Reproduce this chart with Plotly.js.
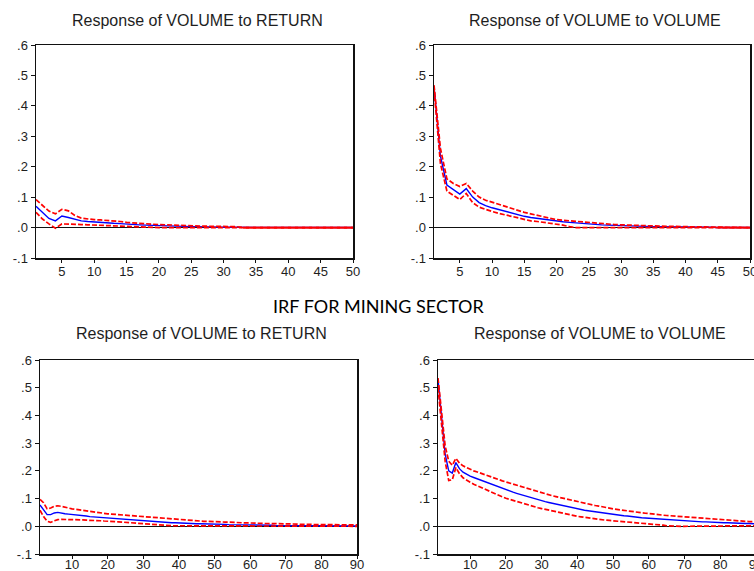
<!DOCTYPE html>
<html>
<head>
<meta charset="utf-8">
<script src="https://cdn.plot.ly/plotly-3.0.1.min.js"></script>
<style>
  html, body { margin: 0; padding: 0; overflow: hidden; background: #fff; }
  #irf { width: 760px; height: 571px; }
</style>
</head>
<body>
<div id="irf"></div>
<script>
// Impulse responses of VOLUME with +/- 2 S.E. bands

const panelTitles = [
  "Response of VOLUME to RETURN",
  "Response of VOLUME to VOLUME",
  "Response of VOLUME to RETURN",
  "Response of VOLUME to VOLUME"
];
const sectionTitle = "IRF FOR MINING SECTOR";

const yTickVals = [-0.1, 0, 0.1, 0.2, 0.3, 0.4, 0.5, 0.6];
const yTickText = ["-.1", ".0", ".1", ".2", ".3", ".4", ".5", ".6"];
const xTicksShort = [5, 10, 15, 20, 25, 30, 35, 40, 45, 50];
const xTicksLong = [10, 20, 30, 40, 50, 60, 70, 80, 90];

// Panel 1: VOLUME to RETURN, 50 periods
const retResp50 = [
  0.070, 0.050, 0.030, 0.022, 0.038, 0.033, 0.027, 0.022, 0.020, 0.018,
  0.017, 0.016, 0.014, 0.013, 0.011, 0.010, 0.009, 0.008, 0.007, 0.006,
  0.005, 0.005, 0.004, 0.004, 0.003, 0.003, 0.002, 0.002, 0.002, 0.001,
  0.001, 0.001, 0, 0, 0, 0, 0, 0, 0, 0,
  0, 0, 0, 0, 0, 0, 0, 0, 0, 0
];
const retUpper50 = [
  0.092, 0.074, 0.054, 0.045, 0.060, 0.055, 0.040, 0.031, 0.028, 0.026,
  0.025, 0.024, 0.022, 0.020, 0.017, 0.015, 0.013, 0.012, 0.011, 0.010,
  0.009, 0.008, 0.007, 0.006, 0.006, 0.005, 0.005, 0.004, 0.004, 0.004,
  0.003, 0.003, 0, 0, 0, 0, 0, 0, 0, 0,
  0, 0, 0, 0, 0, 0, 0, 0, 0, 0
];
const retLower50 = [
  0.050, 0.028, 0.012, -0.002, 0.012, 0.012, 0.012, 0.010, 0.009, 0.008,
  0.007, 0.006, 0.005, 0.004, 0.003, 0.002, 0.002, 0.001, 0.001, 0,
  0, 0, 0, 0, 0, 0, 0, 0, 0, 0,
  0, 0, 0, 0, 0, 0, 0, 0, 0, 0,
  0, 0, 0, 0, 0, 0, 0, 0, 0, 0
];

// Panel 2: VOLUME to VOLUME, 50 periods
const volResp50 = [
  0.465, 0.235, 0.140, 0.124, 0.110, 0.128, 0.100, 0.082, 0.072, 0.065,
  0.059, 0.054, 0.047, 0.041, 0.037, 0.033, 0.030, 0.026, 0.023, 0.021,
  0.019, 0.017, 0.015, 0.013, 0.011, 0.010, 0.009, 0.008, 0.007, 0.006,
  0.005, 0.005, 0.004, 0.004, 0.003, 0.003, 0.003, 0.002, 0.002, 0.002,
  0.001, 0.001, 0.001, 0.001, 0, 0, 0, 0, 0, 0
];
const volUpper50 = [
  0.468, 0.260, 0.160, 0.145, 0.135, 0.145, 0.120, 0.100, 0.090, 0.083,
  0.076, 0.070, 0.062, 0.055, 0.050, 0.045, 0.040, 0.035, 0.030, 0.026,
  0.024, 0.022, 0.020, 0.018, 0.016, 0.014, 0.013, 0.011, 0.010, 0.009,
  0.008, 0.007, 0.007, 0.006, 0.005, 0.005, 0.004, 0.004, 0.003, 0.003,
  0.003, 0.002, 0.002, 0.002, 0, 0, 0, 0, 0, 0
];
const volLower50 = [
  0.455, 0.210, 0.120, 0.105, 0.092, 0.112, 0.082, 0.067, 0.059, 0.053,
  0.047, 0.042, 0.035, 0.030, 0.026, 0.022, 0.020, 0.017, 0.014, 0.012,
  0.008, 0.003, 0, 0, 0, 0, 0, 0, 0, 0,
  0, 0, 0, 0, 0, 0, 0, 0, 0, 0,
  0, 0, 0, 0, 0, 0, 0, 0, 0, 0
];

// Panel 3: VOLUME to RETURN, 90 periods
const retResp90 = [
  0.077, 0.060, 0.042, 0.042, 0.048, 0.050, 0.047, 0.045, 0.044, 0.043,
  0.041, 0.040, 0.038, 0.037, 0.035, 0.034, 0.032, 0.031, 0.030, 0.029,
  0.028, 0.027, 0.026, 0.025, 0.024, 0.023, 0.022, 0.021, 0.020, 0.019,
  0.018, 0.018, 0.017, 0.016, 0.015, 0.015, 0.014, 0.013, 0.013, 0.012,
  0.011, 0.011, 0.010, 0.010, 0.009, 0.009, 0.009, 0.008, 0.008, 0.008,
  0.007, 0.007, 0.007, 0.006, 0.006, 0.006, 0.006, 0.005, 0.005, 0.005,
  0.005, 0.004, 0.004, 0.004, 0.004, 0.004, 0.003, 0.003, 0.003, 0.003,
  0.003, 0.003, 0.002, 0.002, 0.002, 0.002, 0.002, 0.002, 0.002, 0.002,
  0.001, 0.001, 0.001, 0.001, 0.001, 0.001, 0.001, 0.001, 0.001, 0.001
];
const retUpper90 = [
  0.097, 0.085, 0.063, 0.066, 0.072, 0.074, 0.072, 0.070, 0.066, 0.063,
  0.061, 0.059, 0.057, 0.055, 0.053, 0.052, 0.050, 0.048, 0.047, 0.045,
  0.044, 0.043, 0.042, 0.041, 0.040, 0.038, 0.037, 0.036, 0.035, 0.033,
  0.032, 0.031, 0.030, 0.029, 0.028, 0.027, 0.026, 0.025, 0.024, 0.023,
  0.022, 0.021, 0.021, 0.020, 0.019, 0.019, 0.018, 0.018, 0.017, 0.017,
  0.016, 0.016, 0.015, 0.015, 0.014, 0.014, 0.013, 0.013, 0.012, 0.012,
  0.011, 0.011, 0.011, 0.010, 0.010, 0.010, 0.010, 0.009, 0.009, 0.009,
  0.008, 0.008, 0.008, 0.007, 0.007, 0.007, 0.007, 0.006, 0.006, 0.006,
  0.006, 0.006, 0.005, 0.005, 0.005, 0.005, 0.005, 0.005, 0.005, 0.005
];
const retLower90 = [
  0.058, 0.035, 0.018, 0.014, 0.020, 0.024, 0.025, 0.025, 0.025, 0.024,
  0.024, 0.023, 0.023, 0.022, 0.022, 0.021, 0.021, 0.020, 0.019, 0.019,
  0.018, 0.017, 0.016, 0.015, 0.015, 0.014, 0.013, 0.012, 0.011, 0.010,
  0.009, 0.008, 0.006, 0.005, 0.003, 0.002, 0.002, 0.002, 0.002, 0.002,
  0.001, 0.001, 0.001, 0.001, 0.001, 0.001, 0.001, 0.001, 0.001, 0.001,
  0, 0, 0, 0, 0, 0, 0, 0, 0, 0,
  0, 0, 0, 0, 0, 0, 0, 0, 0, 0,
  0, 0, 0, 0, 0, 0, 0, 0, 0, 0,
  0, 0, 0, 0, 0, 0, 0, 0, 0, 0
];

// Panel 4: VOLUME to VOLUME, 90 periods
const volResp90 = [
  0.530, 0.380, 0.260, 0.200, 0.192, 0.230, 0.208, 0.195, 0.187, 0.181,
  0.176, 0.171, 0.166, 0.161, 0.156, 0.151, 0.146, 0.141, 0.136, 0.131,
  0.127, 0.123, 0.119, 0.115, 0.111, 0.107, 0.103, 0.099, 0.096, 0.092,
  0.089, 0.086, 0.083, 0.080, 0.077, 0.074, 0.071, 0.068, 0.065, 0.062,
  0.060, 0.058, 0.056, 0.054, 0.052, 0.050, 0.048, 0.046, 0.044, 0.042,
  0.041, 0.039, 0.038, 0.037, 0.035, 0.034, 0.032, 0.031, 0.030, 0.029,
  0.028, 0.027, 0.026, 0.025, 0.024, 0.023, 0.022, 0.021, 0.020, 0.019,
  0.019, 0.018, 0.017, 0.017, 0.016, 0.016, 0.015, 0.015, 0.014, 0.014,
  0.013, 0.013, 0.012, 0.012, 0.011, 0.011, 0.010, 0.010, 0.010, 0.009
];
const volUpper90 = [
  0.535, 0.410, 0.290, 0.235, 0.220, 0.245, 0.228, 0.218, 0.211, 0.205,
  0.200, 0.196, 0.191, 0.187, 0.182, 0.178, 0.173, 0.169, 0.164, 0.160,
  0.156, 0.152, 0.148, 0.144, 0.140, 0.136, 0.132, 0.128, 0.124, 0.120,
  0.117, 0.113, 0.110, 0.107, 0.104, 0.100, 0.097, 0.094, 0.091, 0.088,
  0.085, 0.083, 0.080, 0.078, 0.075, 0.073, 0.070, 0.068, 0.066, 0.063,
  0.061, 0.059, 0.057, 0.056, 0.054, 0.052, 0.050, 0.049, 0.047, 0.046,
  0.044, 0.043, 0.042, 0.040, 0.039, 0.038, 0.036, 0.035, 0.034, 0.033,
  0.032, 0.031, 0.030, 0.029, 0.028, 0.027, 0.026, 0.025, 0.024, 0.023,
  0.022, 0.022, 0.021, 0.020, 0.019, 0.019, 0.018, 0.017, 0.017, 0.016
];
const volLower90 = [
  0.500, 0.360, 0.235, 0.165, 0.168, 0.212, 0.190, 0.175, 0.166, 0.159,
  0.152, 0.146, 0.140, 0.134, 0.128, 0.122, 0.116, 0.111, 0.106, 0.101,
  0.097, 0.093, 0.089, 0.085, 0.081, 0.078, 0.074, 0.071, 0.067, 0.064,
  0.061, 0.058, 0.055, 0.052, 0.049, 0.046, 0.044, 0.041, 0.039, 0.036,
  0.034, 0.032, 0.030, 0.028, 0.027, 0.025, 0.024, 0.022, 0.021, 0.020,
  0.019, 0.018, 0.017, 0.016, 0.015, 0.014, 0.013, 0.012, 0.011, 0.010,
  0.009, 0.008, 0.006, 0.004, 0.002, 0.001, 0, 0, 0, 0,
  0, 0, 0, 0, 0, 0, 0, 0, 0, 0,
  0, 0, 0, 0, 0, 0.001, 0.001, 0.002, 0.002, 0.002
];

const periods = n => Array.from({ length: n }, (_, i) => i + 1);

const W = 760, H = 571;
// plot-area boxes in pixels: [left, right, top, bottom]
const boxes = [
  [36, 353, 45, 258],
  [434, 750, 45, 258],
  [40, 357, 360, 554],
  [438, 756, 360, 554]
];

const panels = [
  { resp: retResp50, upper: retUpper50, lower: retLower50, xmax: 50, ticks: xTicksShort },
  { resp: volResp50, upper: volUpper50, lower: volLower50, xmax: 50, ticks: xTicksShort },
  { resp: retResp90, upper: retUpper90, lower: retLower90, xmax: 90, ticks: xTicksLong },
  { resp: volResp90, upper: volUpper90, lower: volLower90, xmax: 90, ticks: xTicksLong }
];

const BLUE = "#0000ff", RED = "#ff0000";
const FONT = "Arial, 'Liberation Sans', sans-serif";
const traces = [];
const layout = {
  width: W, height: H,
  margin: { l: 0, r: 0, t: 0, b: 0 },
  paper_bgcolor: "#fff", plot_bgcolor: "#fff",
  showlegend: false,
  font: { family: FONT, color: "#1e1e1e" },
  annotations: []
};

panels.forEach((p, i) => {
  const n = i + 1;
  const xa = "x" + (n === 1 ? "" : n), ya = "y" + (n === 1 ? "" : n);
  const x = periods(p.xmax);
  const [l, r, t, b] = boxes[i];

  traces.push({ x, y: p.resp, xaxis: xa, yaxis: ya, type: "scatter", mode: "lines",
    line: { color: BLUE, width: 1.4 } });
  traces.push({ x, y: p.upper, xaxis: xa, yaxis: ya, type: "scatter", mode: "lines",
    line: { color: RED, width: 1.7, dash: "5px,2px" } });
  traces.push({ x, y: p.lower, xaxis: xa, yaxis: ya, type: "scatter", mode: "lines",
    line: { color: RED, width: 1.7, dash: "5px,2px" } });

  // once both bands have collapsed onto zero the two dashed lines merge into one solid line
  let k = p.xmax;
  while (k > 0 && p.upper[k - 1] === 0 && p.lower[k - 1] === 0) k--;
  if (k < p.xmax - 1) {
    traces.push({ x: x.slice(k), y: p.upper.slice(k), xaxis: xa, yaxis: ya, type: "scatter",
      mode: "lines", line: { color: RED, width: 1.7 } });
  }

  const axCommon = {
    showline: true, mirror: true, linecolor: "#111", linewidth: 1.5,
    showgrid: false, ticks: "outside", ticklen: 4, tickwidth: 1, tickcolor: "#111",
    tickfont: { size: 13, family: FONT, color: "#1e1e1e" },
    fixedrange: true
  };
  layout["xaxis" + (n === 1 ? "" : n)] = Object.assign({}, axCommon, {
    anchor: ya, domain: [l / W, r / W], range: [1, p.xmax],
    tickmode: "array", tickvals: p.ticks, ticktext: p.ticks.map(String),
    ticklen: 3, ticklabelstandoff: i < 2 ? -2 : -5,
    ticklabeloverflow: "allow",
    zeroline: false
  });
  layout["yaxis" + (n === 1 ? "" : n)] = Object.assign({}, axCommon, {
    anchor: xa, domain: [1 - b / H, 1 - t / H], range: [-0.1, 0.6],
    tickmode: "array", tickvals: yTickVals, ticktext: yTickText,
    zeroline: true, zerolinecolor: "#111", zerolinewidth: 1.3
  });

  layout.annotations.push({
    text: panelTitles[i], xref: "paper", yref: "paper",
    x: ((l + r) / 2 + 3) / W, y: 1 - (i < 2 ? 20 : 333) / H,
    xanchor: "center", yanchor: "middle", showarrow: false,
    font: { size: 16, family: FONT, color: "#1e1e1e" }
  });
});

layout.annotations.push({
  text: sectionTitle, xref: "paper", yref: "paper",
  x: 378 / W, y: 1 - 306 / H, xanchor: "center", yanchor: "middle", showarrow: false,
  font: { size: 18, family: "Lato, 'Liberation Sans', sans-serif", color: "#000" }
});

Plotly.newPlot("irf", traces, layout, { staticPlot: true, displayModeBar: false });
</script>
</body>
</html>
